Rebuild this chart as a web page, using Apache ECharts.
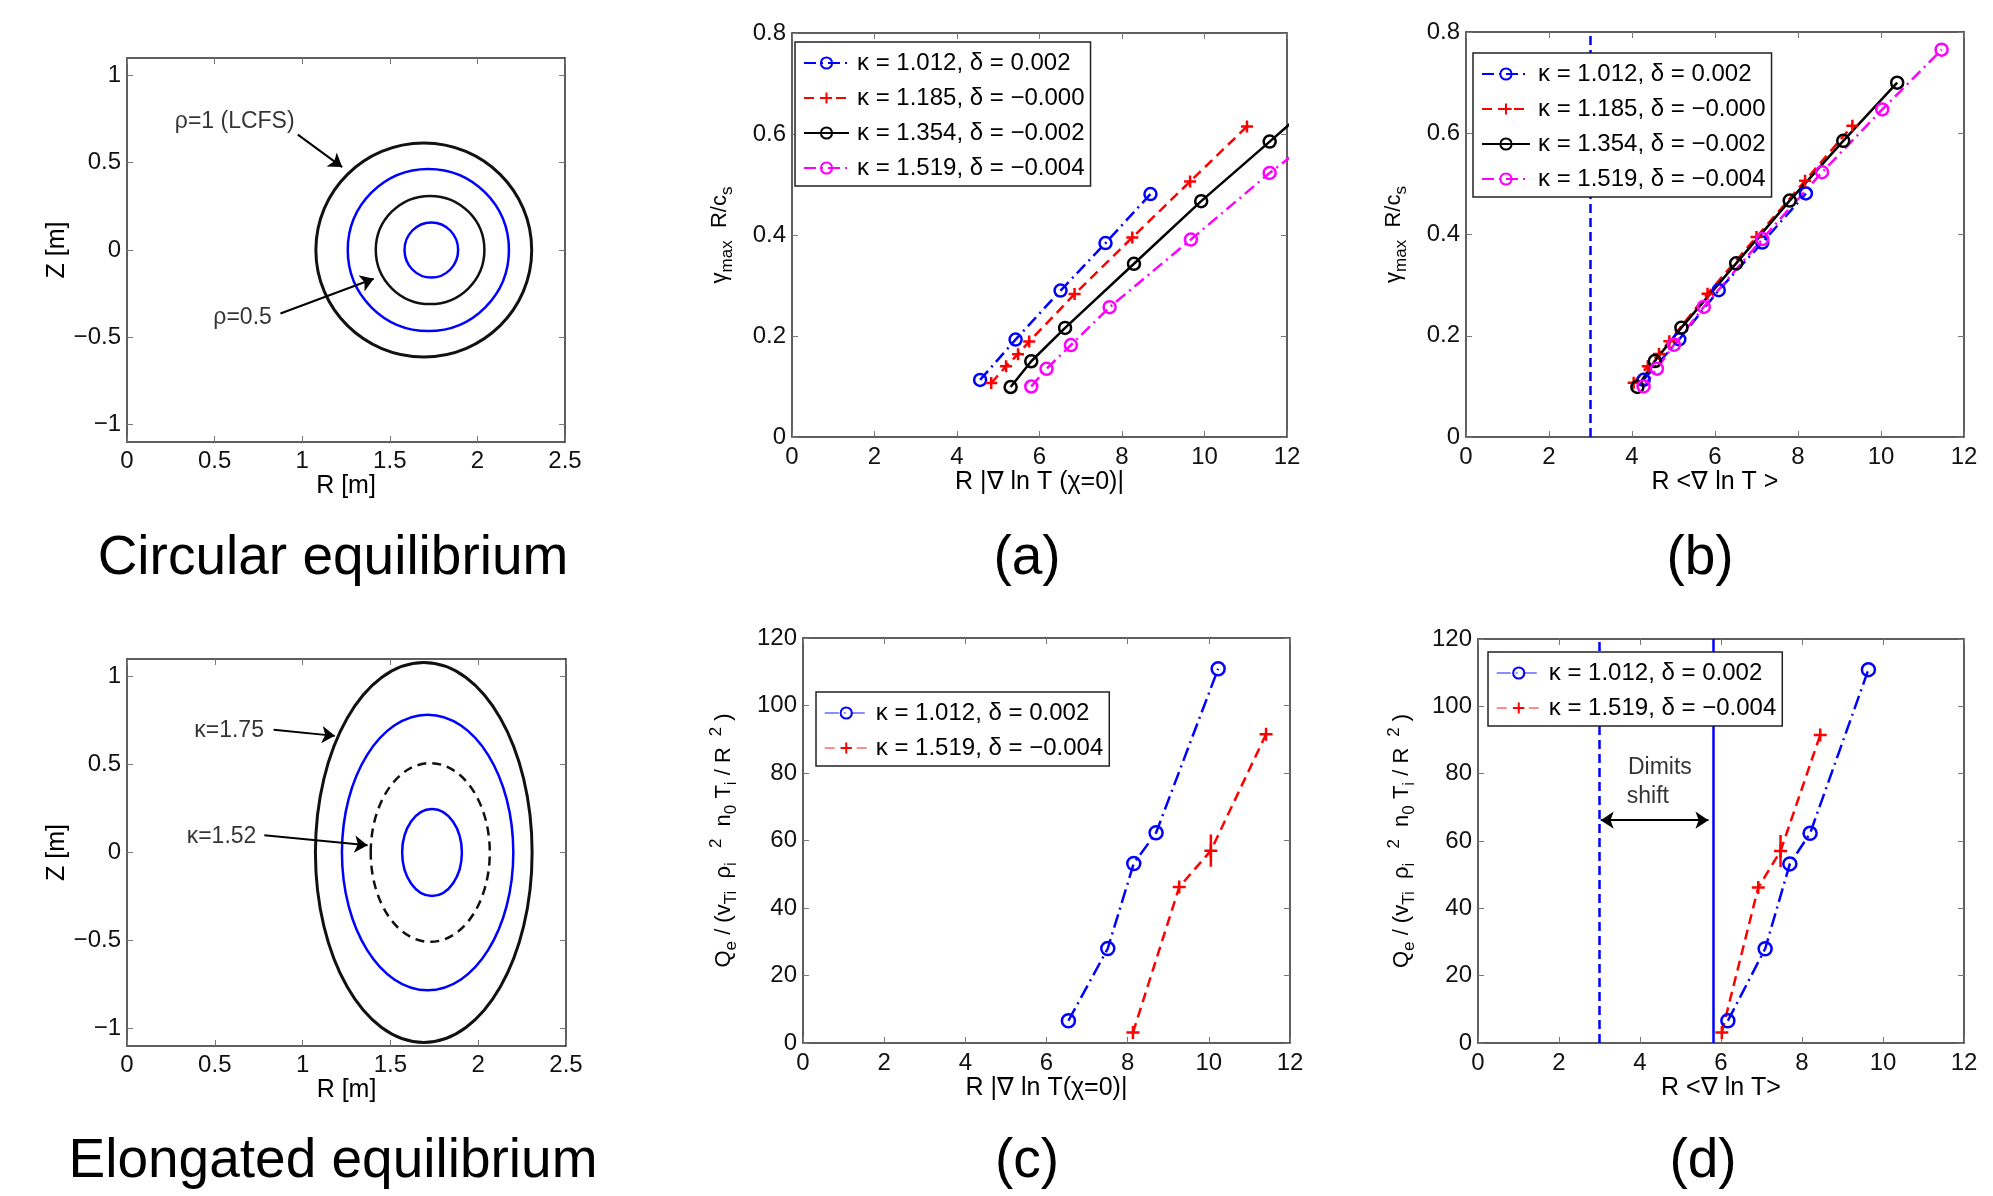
<!DOCTYPE html>
<html>
<head>
<meta charset="utf-8">
<script src="https://cdn.jsdelivr.net/npm/echarts@6/dist/echarts.min.js"></script>
<style>
  html, body { margin: 0; background: #fff; }
  #chart { width: 1993px; height: 1196px; }
</style>
</head>
<body>
<div id="chart"></div>
<script>
// ---- tick labels ----
const eqXTicks = [0, 0.5, 1, 1.5, 2, 2.5];
const eqYTicks = [-1, -0.5, 0, 0.5, 1];
const gradTicks = [0, 2, 4, 6, 8, 10, 12];
const gammaTicks = [0, 0.2, 0.4, 0.6, 0.8];
const fluxTicks = [0, 20, 40, 60, 80, 100, 120];

// ---- flux surfaces: [R centre, Z centre, half width, half height] ----
const circularSurfaces = [
  [1.694, 0, 0.616, 0.613],
  [1.720, 0, 0.460, 0.464],
  [1.730, 0, 0.310, 0.310],
  [1.737, 0, 0.153, 0.158]
];
const elongatedSurfaces = [
  [1.690, 0, 0.617, 1.080],
  [1.712, 0, 0.488, 0.783],
  [1.727, 0, 0.339, 0.508],
  [1.737, 0, 0.170, 0.247]
];

// ---- legend texts ----
const kappaLabel = {
  '1012': 'κ = 1.012, δ = 0.002',
  '1185': 'κ = 1.185, δ = −0.000',
  '1354': 'κ = 1.354, δ = −0.002',
  '1519': 'κ = 1.519, δ = −0.004'
};

// ---- growth rates gamma_max R/c_s ----
const gamma1012 = [0.113, 0.193, 0.290, 0.384, 0.481];
const gamma1185 = [0.107, 0.140, 0.164, 0.189, 0.283, 0.395, 0.506, 0.615];
const gamma1354 = [0.099, 0.150, 0.216, 0.343, 0.467, 0.585, 0.700];
const gamma1519 = [0.100, 0.135, 0.182, 0.257, 0.391, 0.523, 0.647, 0.765];
// R |grad ln T (chi=0)|  (panel a)
const xa1012 = [4.56, 5.42, 6.51, 7.60, 8.69];
const xa1185 = [4.83, 5.19, 5.48, 5.75, 6.85, 8.25, 9.65, 11.03];
const xa1354 = [5.30, 5.80, 6.62, 8.29, 9.92, 11.58, 13.20];
const xa1519 = [5.80, 6.17, 6.76, 7.70, 9.67, 11.58, 13.56, 15.49];
// R <grad ln T>  (panel b)
const xb1012 = [4.28, 5.14, 6.09, 7.14, 8.19];
const xb1185 = [4.04, 4.38, 4.65, 4.90, 5.82, 7.00, 8.17, 9.31];
const xb1354 = [4.13, 4.55, 5.19, 6.51, 7.80, 9.09, 10.39];
const xb1519 = [4.28, 4.60, 5.01, 5.73, 7.14, 8.58, 10.03, 11.46];

// ---- heat flux Q_e ----
const q1012 = [6.6, 28.0, 53.2, 62.3, 110.9];
const q1519 = [3.1, 46.2, 57.0, 91.5];
const q1519Err = [52.2, 61.8];          // error bar on the 3rd point
const xc1012 = [6.54, 7.51, 8.15, 8.70, 10.23];
const xc1519 = [8.13, 9.27, 10.05, 11.41];
const xd1012 = [6.17, 7.09, 7.70, 8.20, 9.64];
const xd1519 = [6.02, 6.92, 7.47, 8.45];

// thresholds
const linearThreshold = 3.0;
const nonlinearThreshold = 5.8;

// ---- annotations (data coords) ----
const circNotes = [[0.27, 0.734, 'ρ=1 (LCFS)'], [0.49, -0.387, 'ρ=0.5']];
const circArrows = [[[0.975, 0.661], [1.228, 0.475]], [[0.876, -0.364], [1.408, -0.165]]];
const elongNotes = [[0.38, 0.693, 'κ=1.75'], [0.337, 0.091, 'κ=1.52']];
const elongArrows = [[[0.835, 0.698], [1.184, 0.663]], [[0.782, 0.098], [1.37, 0.041]]];
const dimitsNotes = [[3.69, 81.7, 'Dimits'], [3.66, 73.2, 'shift']];
const dimitsArrow = [[3.03, 66.2], [5.69, 66.2]];

// ── styling ────────────────────────────────────────────────────────────────
const FONT = '"Liberation Sans", Arial, Helvetica, sans-serif';
const BLUE = '#0000ff', RED = '#ff0000', BLACK = '#000000', MAGENTA = '#ff00ff';
const DASHDOT = [12, 5, 2, 5];
const DASHED = [10, 6];
const PLUS = 'path://M0 5H10M5 0V10';

const grids = [
  { left: 127, top: 58, width: 438, height: 384 },   // circular
  { left: 792, top: 33, width: 495, height: 404 },   // (a)
  { left: 1466, top: 32, width: 498, height: 405 },  // (b)
  { left: 127, top: 659, width: 439, height: 387 },  // elongated
  { left: 803, top: 638, width: 487, height: 405 },  // (c)
  { left: 1478, top: 639, width: 486, height: 404 }  // (d)
];

const rich = {
  n: { fontSize: 22, fontFamily: FONT, color: '#000', lineHeight: 32, verticalAlign: 'middle' },
  s: { fontSize: 17, fontFamily: FONT, color: '#000', lineHeight: 14, verticalAlign: 'bottom' },
  p: { fontSize: 17, fontFamily: FONT, color: '#000', lineHeight: 14, verticalAlign: 'top' }
};

const fmtTick = v => (v < 0 ? '\u2212' + (-v) : String(v));

function axes(dim, gi, min, max, ticks, name, nameGap, margin, isRich) {
  const common = {
    type: 'value', gridIndex: gi, min, max,
    splitLine: { show: false },
    axisLine: { show: true, onZero: false, lineStyle: { color: '#2a2a2a', width: 1.5 } },
    axisTick: { show: true, inside: true, length: 6, customValues: ticks, lineStyle: { color: '#777', width: 1 } }
  };
  const main = Object.assign({}, common, {
    position: dim === 'x' ? 'bottom' : 'left',
    name, nameLocation: 'middle', nameGap,
    nameTextStyle: isRich ? { rich } : { fontSize: 25, fontFamily: FONT, color: '#000' },
    axisLabel: { customValues: ticks, fontSize: 24, fontFamily: FONT, color: '#111', margin, formatter: fmtTick }
  });
  const mirror = Object.assign({}, common, {
    position: dim === 'x' ? 'top' : 'right',
    axisLabel: { show: false }
  });
  return [main, mirror];
}

const xAxis = [
  ...axes('x', 0, 0, 2.5, eqXTicks, 'R [m]', 29, 7),
  ...axes('x', 1, 0, 12, gradTicks, 'R |∇ ln T (χ=0)|', 30, 8),
  ...axes('x', 2, 0, 12, gradTicks, 'R <∇ ln T >', 30, 8),
  ...axes('x', 3, 0, 2.5, eqXTicks, 'R [m]', 30, 7),
  ...axes('x', 4, 0, 12, gradTicks, 'R |∇ ln T(χ=0)|', 33, 8),
  ...axes('x', 5, 0, 12, gradTicks, 'R <∇ ln T>', 31, 8)
];
const gammaName = '{n|γ}{s|max}{n|  R/c}{s|s}';
const qName = '{n|Q}{s|e}{n| / (v}{s|Ti}{n|  ρ}{s|i}{p|   2}{n|  n}{s|0}{n| T}{s|i}{n| / R }{p| 2}{n| )}';
const yAxis = [
  ...axes('y', 0, -1.1, 1.1, eqYTicks, 'Z [m]', 57, 6),
  ...axes('y', 1, 0, 0.8, gammaTicks, gammaName, 56, 6, true),
  ...axes('y', 2, 0, 0.8, gammaTicks, gammaName, 56, 6, true),
  ...axes('y', 3, -1.1, 1.1, eqYTicks, 'Z [m]', 57, 6),
  ...axes('y', 4, 0, 120, fluxTicks, qName, 63, 6, true),
  ...axes('y', 5, 0, 120, fluxTicks, qName, 60, 6, true)
];

// ── series builders ────────────────────────────────────────────────────────
function surfaces(gi, data, styles) {
  return {
    type: 'custom', xAxisIndex: 2 * gi, yAxisIndex: 2 * gi, clip: true, silent: true,
    data,
    renderItem(params, api) {
      const c = api.coord([api.value(0), api.value(1)]);
      const e = api.coord([api.value(0) + api.value(2), api.value(1) + api.value(3)]);
      const st = styles[params.dataIndex];
      return {
        type: 'ellipse',
        shape: { cx: c[0], cy: c[1], rx: e[0] - c[0], ry: c[1] - e[1] },
        style: { fill: 'none', stroke: st.color, lineWidth: st.width, lineDash: st.dash || null }
      };
    }
  };
}

function curve(name, gi, xs, ys, color, dash, symbol, size, extra) {
  const hollow = symbol === 'circle';
  return Object.assign({
    type: 'line', name, xAxisIndex: 2 * gi, yAxisIndex: 2 * gi,
    data: xs.map((x, i) => [x, ys[i]]),
    symbol, symbolSize: size, showSymbol: true, clip: true, z: 3,
    lineStyle: { color, width: 2.5, type: dash },
    itemStyle: { color: hollow ? 'rgba(0,0,0,0)' : color, borderColor: color, borderWidth: 2.5 }
  }, extra || {});
}

function notes(gi, pts, arrows, arrowSym) {
  return {
    type: 'scatter', xAxisIndex: 2 * gi, yAxisIndex: 2 * gi, silent: true,
    data: pts, symbolSize: 1, itemStyle: { color: 'rgba(0,0,0,0)' },
    label: { show: true, position: 'right', distance: 0, formatter: p => p.value[2],
             fontSize: 23, fontFamily: FONT, color: '#000' },
    markLine: {
      silent: true, symbol: arrowSym, symbolSize: 13,
      lineStyle: { color: '#000', width: 2, type: 'solid' },
      label: { show: false },
      data: arrows.map(a => [{ coord: a[0] }, { coord: a[1] }])
    }
  };
}

function errorBar(gi, x, range) {
  return {
    type: 'line', xAxisIndex: 2 * gi, yAxisIndex: 2 * gi, silent: true, symbol: 'none',
    data: range.map(v => [x, v]),
    lineStyle: { color: RED, width: 2.5, type: 'solid' }
  };
}

const vline = (x, type) => ({ xAxis: x, lineStyle: { color: BLUE, width: 2.5, type } });
const vlineMark = items => ({ silent: true, symbol: 'none', label: { show: false }, data: items });

const circStyles = [
  { color: '#111', width: 3 }, { color: BLUE, width: 2.5 },
  { color: '#111', width: 2.5 }, { color: BLUE, width: 2.5 }
];
const elongStyles = [
  { color: '#111', width: 3 }, { color: BLUE, width: 2.5 },
  { color: '#111', width: 2.5, dash: [9, 6] }, { color: BLUE, width: 2.5 }
];

const series = [
  surfaces(0, circularSurfaces, circStyles),
  notes(0, circNotes, circArrows, ['none', 'arrow']),
  surfaces(3, elongatedSurfaces, elongStyles),
  notes(3, elongNotes, elongArrows, ['none', 'arrow']),

  curve('a1012', 1, xa1012, gamma1012, BLUE, DASHDOT, 'circle', 12),
  curve('a1185', 1, xa1185, gamma1185, RED, DASHED, PLUS, 12),
  curve('a1354', 1, xa1354, gamma1354, BLACK, 'solid', 'circle', 12),
  curve('a1519', 1, xa1519, gamma1519, MAGENTA, DASHDOT, 'circle', 12),

  curve('b1012', 2, xb1012, gamma1012, BLUE, DASHDOT, 'circle', 12,
        { markLine: vlineMark([vline(linearThreshold, [9, 5])]) }),
  curve('b1185', 2, xb1185, gamma1185, RED, DASHED, PLUS, 12),
  curve('b1354', 2, xb1354, gamma1354, BLACK, 'solid', 'circle', 12),
  curve('b1519', 2, xb1519, gamma1519, MAGENTA, DASHDOT, 'circle', 12),

  curve('c1012', 4, xc1012, q1012, BLUE, [14, 5, 2, 5], 'circle', 13),
  curve('c1519', 4, xc1519, q1519, RED, DASHED, PLUS, 13),
  errorBar(4, xc1519[2], q1519Err),

  curve('d1012', 5, xd1012, q1012, BLUE, [14, 5, 2, 5], 'circle', 13,
        { markLine: vlineMark([vline(linearThreshold, [9, 5]), vline(nonlinearThreshold, 'solid')]) }),
  curve('d1519', 5, xd1519, q1519, RED, DASHED, PLUS, 13),
  errorBar(5, xd1519[2], q1519Err),
  notes(5, dimitsNotes, [dimitsArrow], ['arrow', 'arrow'])
];

function legend(names, left, top, itemWidth, faint) {
  const l = {
    data: names, orient: 'vertical', left, top, itemWidth, itemHeight: 14, itemGap: 11, z: 20,
    padding: [9, 6, 6, 8], backgroundColor: '#fff', borderColor: '#222', borderWidth: 1.5,
    selectedMode: false,
    formatter: n => kappaLabel[n.slice(1)],
    textStyle: { fontSize: 24, fontFamily: FONT, color: '#000', lineHeight: 24, padding: [0, 0, 0, 3] }
  };
  if (faint) l.lineStyle = { width: 1.5, opacity: 0.6 };
  return l;
}

const titleText = (text, x, y) => ({
  type: 'text', x, y, silent: true,
  style: { text, fontSize: 55, fontFamily: FONT, fill: '#000', align: 'center', verticalAlign: 'middle' }
});

const option = {
  backgroundColor: '#fff',
  animation: false,
  grid: grids.map(g => Object.assign({ containLabel: false }, g)),
  xAxis, yAxis, series,
  legend: [
    legend(['a1012', 'a1185', 'a1354', 'a1519'], 795, 42, 45),
    legend(['b1012', 'b1185', 'b1354', 'b1519'], 1473, 53, 48),
    legend(['c1012', 'c1519'], 816, 692, 43, true),
    legend(['d1012', 'd1519'], 1488, 652, 44, true)
  ],
  graphic: [
    titleText('Circular equilibrium', 333, 559),
    titleText('(a)', 1027, 559),
    titleText('(b)', 1700, 559),
    titleText('Elongated equilibrium', 333, 1162),
    titleText('(c)', 1027, 1162),
    titleText('(d)', 1703, 1162)
  ]
};

const chart = echarts.init(document.getElementById('chart'), null, { renderer: 'canvas' });
chart.setOption(option);
</script>
</body>
</html>
